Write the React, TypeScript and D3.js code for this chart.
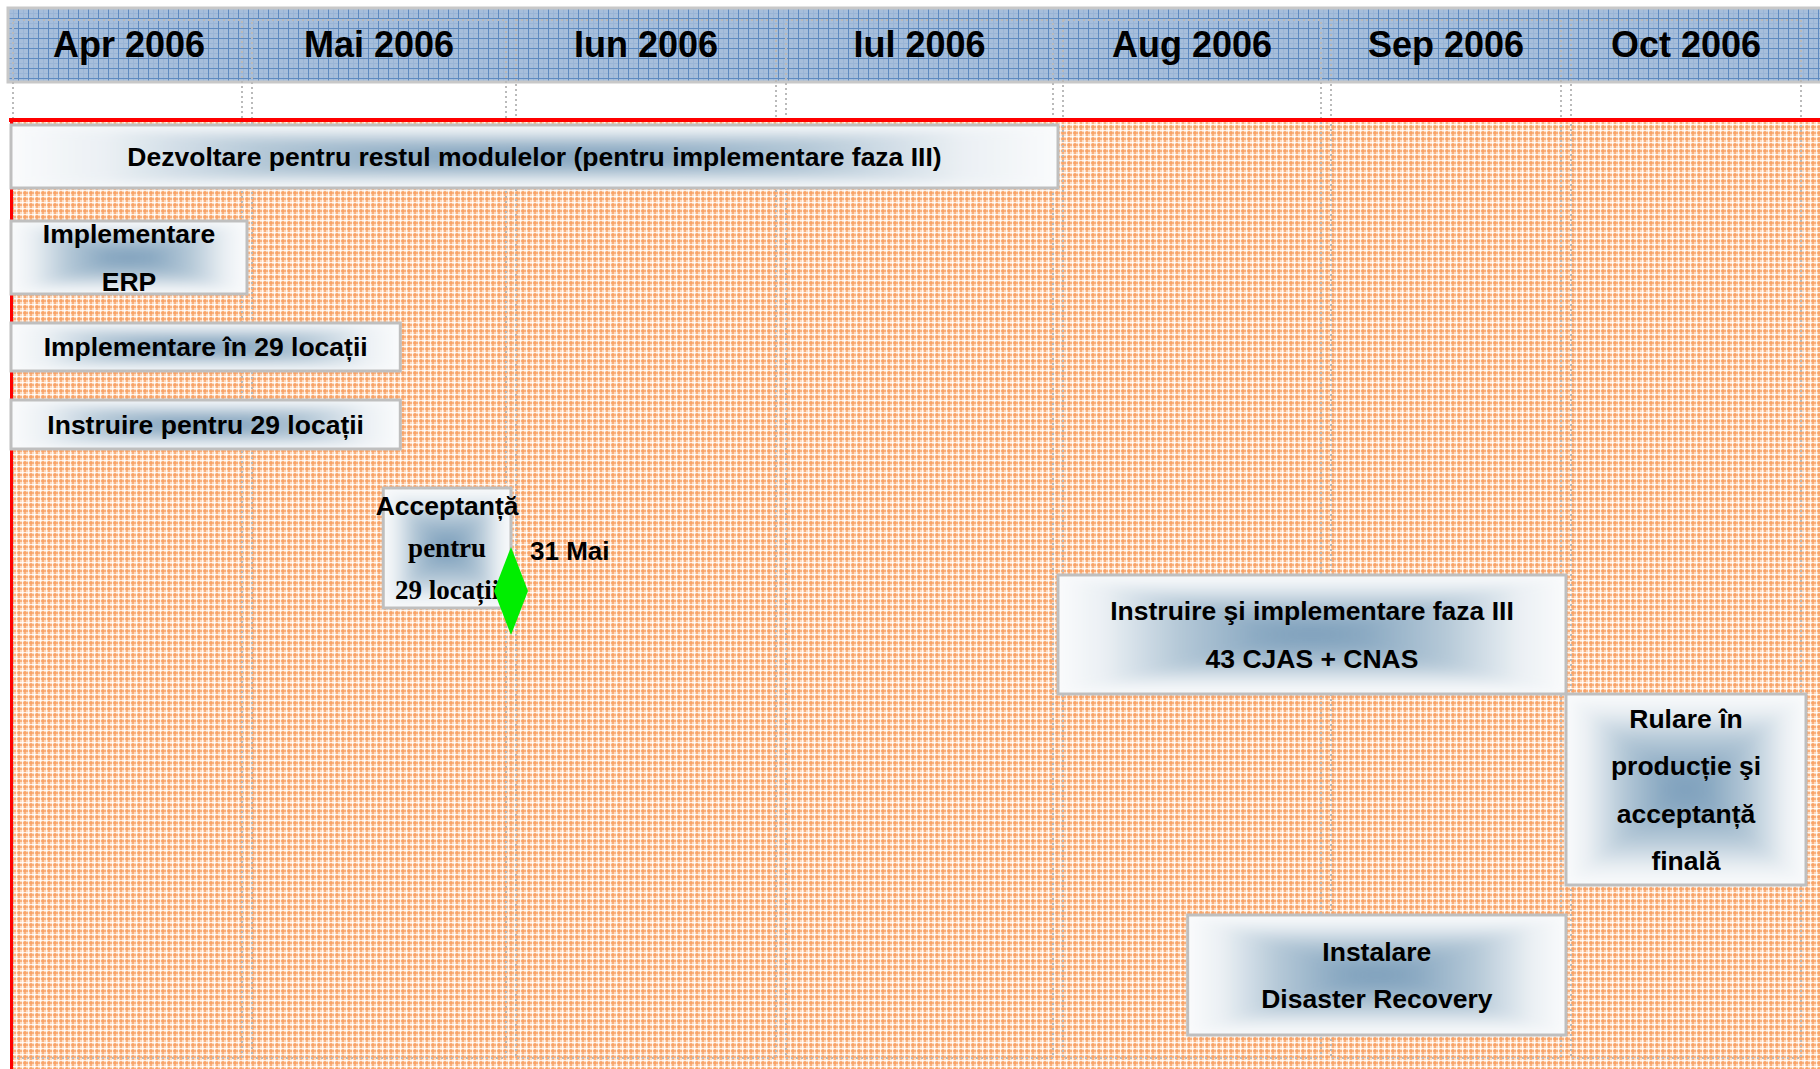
import * as d3 from "d3";
import { useRef, useEffect } from "react";

// month header
const months = ["Apr 2006", "Mai 2006", "Iun 2006", "Iul 2006", "Aug 2006", "Sep 2006", "Oct 2006"];
const monthStarts = ["2006-04-01", "2006-05-01", "2006-06-01", "2006-07-01", "2006-08-01", "2006-09-01", "2006-10-01", "2006-11-01"];

// tasks (end dates inclusive)
const taskLabels = [
  ["Dezvoltare pentru restul modulelor (pentru implementare faza III)"],
  ["Implementare", "ERP"],
  ["Implementare în 29 locații"],
  ["Instruire pentru 29 locații"],
  ["Acceptanță", "pentru", "29 locații"],
  ["Instruire şi implementare faza III", "43 CJAS + CNAS"],
  ["Rulare în", "producție şi", "acceptanță", "finală"],
  ["Instalare", "Disaster Recovery"],
];
const taskStarts = ["2006-04-01", "2006-04-01", "2006-04-01", "2006-04-01", "2006-05-17", "2006-08-01", "2006-10-01", "2006-08-16"];
const taskEnds = ["2006-07-31", "2006-04-30", "2006-05-18", "2006-05-18", "2006-05-31", "2006-09-30", "2006-10-31", "2006-09-30"];

const milestoneDate = "2006-05-31";
const milestoneLabel = "31 Mai";

// layout
const W = 1820, H = 1069;
const monthEdges = [11, 247, 511, 781, 1058, 1326, 1566, 1806];
const taskTop = [125, 221, 323, 400, 488, 575, 694, 915];
const taskHeight = [63, 73, 48, 49, 120, 119, 191, 120];
const taskLineGap = [0, 47.5, 0, 0, 42, 47.5, 47.5, 47.5];

const SANS = "'Liberation Sans', Arial, sans-serif";
const SERIF = "'Liberation Serif', 'Times New Roman', serif";

export default function App() {
  const ref = useRef<SVGSVGElement>(null);

  useEffect(() => {
    const svg = d3.select(ref.current);
    svg.selectAll("*").remove();

    const parse = d3.timeParse("%Y-%m-%d");
    const x = d3.scaleTime()
      .domain(monthStarts.map(s => parse(s)))
      .range(monthEdges);
    const endX = (s: string) => x(d3.timeDay.offset(parse(s), 1));

    const defs = svg.append("defs");

    // header blue grid pattern
    const hp = defs.append("pattern")
      .attr("id", "hdr")
      .attr("patternUnits", "userSpaceOnUse")
      .attr("x", 8).attr("y", 8)
      .attr("width", 10).attr("height", 10);
    hp.append("rect").attr("width", 10).attr("height", 10).attr("fill", "#a6bedb");
    hp.append("rect").attr("x", 5).attr("width", 1).attr("height", 10).attr("fill", "#9ab5d6");
    hp.append("rect").attr("y", 5).attr("width", 10).attr("height", 1).attr("fill", "#9ab5d6");
    hp.append("rect").attr("width", 1).attr("height", 10).attr("fill", "#5f8bc0");
    hp.append("rect").attr("width", 10).attr("height", 1).attr("fill", "#5f8bc0");

    // orange plaid pattern
    const op = defs.append("pattern")
      .attr("id", "plaid")
      .attr("patternUnits", "userSpaceOnUse")
      .attr("width", 6).attr("height", 6);
    op.append("rect").attr("width", 6).attr("height", 6).attr("fill", "#fddbc0");
    op.append("rect").attr("width", 2).attr("height", 6).attr("fill", "#f89f60").attr("opacity", 0.7);
    op.append("rect").attr("width", 6).attr("height", 2).attr("fill", "#f89f60").attr("opacity", 0.7);
    op.append("rect").attr("x", 4).attr("width", 1).attr("height", 6).attr("fill", "#ffffff").attr("opacity", 0.8);
    op.append("rect").attr("y", 4).attr("width", 6).attr("height", 1).attr("fill", "#ffffff").attr("opacity", 0.8);

    // rectangular path gradient = 4 linear gradients on triangles
    const dirs = {
      gTop: [0, 0, 0, 1],
      gBottom: [0, 1, 0, 0],
      gLeft: [0, 0, 1, 0],
      gRight: [1, 0, 0, 0],
    };
    Object.entries(dirs).forEach(([id, [x1, y1, x2, y2]]) => {
      const g = defs.append("linearGradient")
        .attr("id", id)
        .attr("x1", x1).attr("y1", y1)
        .attr("x2", x2).attr("y2", y2);
      g.append("stop").attr("offset", "0%").attr("stop-color", "#fafbfc");
      g.append("stop").attr("offset", "18%").attr("stop-color", "#ebf0f4");
      g.append("stop").attr("offset", "48%").attr("stop-color", "#b4c8d7");
      g.append("stop").attr("offset", "80%").attr("stop-color", "#8aa9c2");
      g.append("stop").attr("offset", "100%").attr("stop-color", "#7b9ebb");
    });

    const blur = defs.append("filter")
      .attr("id", "soft")
      .attr("x", "-10%").attr("y", "-10%")
      .attr("width", "120%").attr("height", "120%");
    blur.append("feGaussianBlur").attr("stdDeviation", 6);

    svg.append("rect").attr("width", W).attr("height", H).attr("fill", "#ffffff");

    // header band
    svg.append("rect")
      .attr("x", 8).attr("y", 8)
      .attr("width", W + 10).attr("height", 74)
      .attr("fill", "url(#hdr)")
      .attr("stroke", "#c8c8c8")
      .attr("stroke-width", 3);

    // plot area
    svg.append("rect")
      .attr("x", 12).attr("y", 121)
      .attr("width", W - 12).attr("height", H - 121)
      .attr("fill", "url(#plaid)");

    // dotted month cells
    const starts = monthStarts.map(s => parse(s));
    months.forEach((m, i) => {
      const l = x(starts[i]) + (i === 0 ? 2 : 5);
      const r = x(starts[i + 1]) - 5;
      svg.append("rect")
        .attr("x", l).attr("y", 20)
        .attr("width", r - l).attr("height", 1038)
        .attr("fill", "none")
        .attr("stroke", "#bababa")
        .attr("stroke-width", 2)
        .attr("stroke-dasharray", "2 3");
    });

    // red frame lines
    svg.append("line")
      .attr("x1", 9).attr("x2", W)
      .attr("y1", 120).attr("y2", 120)
      .attr("stroke", "#ff0000").attr("stroke-width", 4);
    svg.append("line")
      .attr("x1", 11.5).attr("x2", 11.5)
      .attr("y1", 118).attr("y2", H)
      .attr("stroke", "#ff0000").attr("stroke-width", 3);

    // task boxes
    taskLabels.forEach((lines, i) => {
      const x0 = x(parse(taskStarts[i]));
      const x1 = endX(taskEnds[i]);
      const y0 = taskTop[i];
      const y1 = y0 + taskHeight[i];
      const cx = (x0 + x1) / 2;
      const cy = (y0 + y1) / 2;
      const g = svg.append("g");

      defs.append("clipPath")
        .attr("id", `clip${i}`)
        .append("rect")
        .attr("x", x0).attr("y", y0)
        .attr("width", x1 - x0).attr("height", y1 - y0);

      g.append("rect")
        .attr("x", x0).attr("y", y0)
        .attr("width", x1 - x0).attr("height", y1 - y0)
        .attr("fill", "#fafbfc");
      const shade = g.append("g")
        .attr("clip-path", `url(#clip${i})`)
        .append("g")
        .attr("filter", "url(#soft)");
      shade.append("path").attr("d", `M${x0},${y0}L${x1},${y0}L${cx},${cy}Z`).attr("fill", "url(#gTop)");
      shade.append("path").attr("d", `M${x0},${y1}L${x1},${y1}L${cx},${cy}Z`).attr("fill", "url(#gBottom)");
      shade.append("path").attr("d", `M${x0},${y0}L${x0},${y1}L${cx},${cy}Z`).attr("fill", "url(#gLeft)");
      shade.append("path").attr("d", `M${x1},${y0}L${x1},${y1}L${cx},${cy}Z`).attr("fill", "url(#gRight)");
      g.append("rect")
        .attr("x", x0).attr("y", y0)
        .attr("width", x1 - x0).attr("height", y1 - y0)
        .attr("fill", "none")
        .attr("stroke", "#bfbfbf")
        .attr("stroke-width", 3);

      lines.forEach((t, j) => {
        const serif = i === 4 && j > 0;
        const fs = serif ? 27 : 26.5;
        const ly = cy + (j - (lines.length - 1) / 2) * taskLineGap[i];
        g.append("text")
          .attr("x", cx)
          .attr("y", ly + fs * 0.35)
          .attr("text-anchor", "middle")
          .attr("font-family", serif ? SERIF : SANS)
          .attr("font-weight", "bold")
          .attr("font-size", fs)
          .attr("fill", "#000")
          .text(t);
      });
    });

    // milestone
    const mx = endX(milestoneDate);
    const my = 591;
    svg.append("path")
      .attr("d", `M${mx},${my - 44}L${mx + 17},${my}L${mx},${my + 44}L${mx - 17},${my}Z`)
      .attr("fill", "#00ee00");
    svg.append("text")
      .attr("x", mx + 19)
      .attr("y", 560)
      .attr("font-family", SANS)
      .attr("font-weight", "bold")
      .attr("font-size", 26)
      .attr("fill", "#000")
      .text(milestoneLabel);

    // month labels
    svg.append("g")
      .selectAll("text")
      .data(months)
      .join("text")
      .attr("x", (d, i) => (x(starts[i]) + x(starts[i + 1])) / 2)
      .attr("y", 57)
      .attr("text-anchor", "middle")
      .attr("font-family", SANS)
      .attr("font-weight", "bold")
      .attr("font-size", 36)
      .attr("fill", "#000")
      .text(d => d);
  }, []);

  return (
    <div style={{ position: "absolute", left: 0, top: 0 }}>
      <svg ref={ref} width={W} height={H} style={{ display: "block" }} />
    </div>
  );
}
